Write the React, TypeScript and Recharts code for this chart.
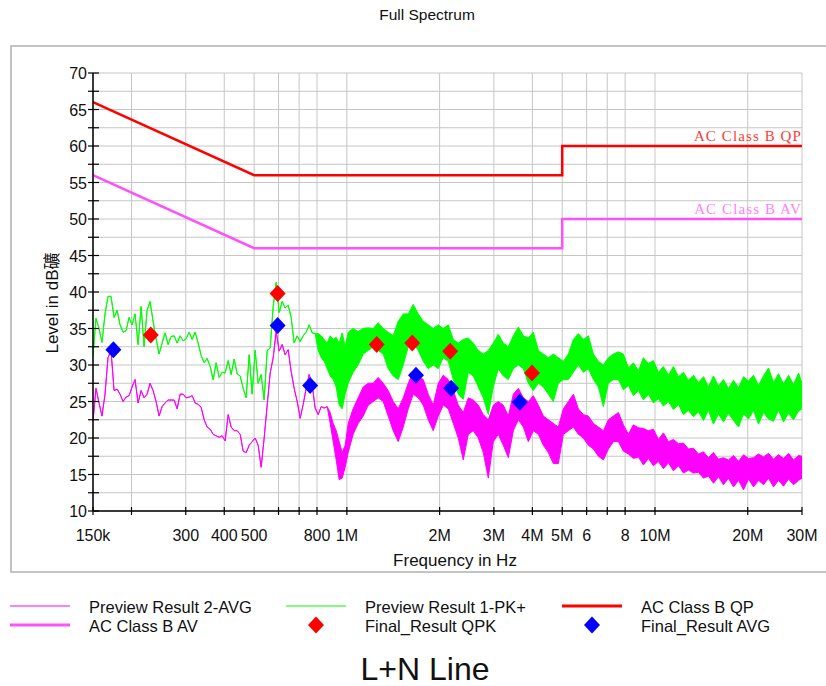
import React from 'react';
import { ComposedChart, Area, Line, Scatter, XAxis, YAxis, CartesianGrid } from 'recharts';

// sweep frequencies in MHz
const freqMHz = [
  0.150, 0.1534, 0.1569, 0.1604, 0.1641, 0.1678, 0.1716, 0.1756, 0.1796, 0.1836,
  0.1878, 0.1920, 0.1964, 0.2009, 0.2054, 0.2101, 0.2149, 0.2197, 0.2247, 0.2298,
  0.2350, 0.2404, 0.2458, 0.2514, 0.2571, 0.2630, 0.2689, 0.2750, 0.2813, 0.2877,
  0.2942, 0.3009, 0.3077, 0.3147, 0.3218, 0.3291, 0.3366, 0.3442, 0.3520, 0.3600,
  0.3682, 0.3765, 0.3851, 0.3938, 0.4027, 0.4119, 0.4212, 0.4308, 0.4405, 0.4505,
  0.4607, 0.4712, 0.4819, 0.4928, 0.5040, 0.5154, 0.5271, 0.5390, 0.5513, 0.5638,
  0.5766, 0.5896, 0.6030, 0.6167, 0.6306, 0.6449, 0.6596, 0.6745, 0.6898, 0.7055,
  0.7215, 0.7378, 0.7546, 0.7717, 0.7892, 0.8071, 0.8254, 0.8441, 0.8632, 0.8828,
  0.9028, 0.9233, 0.9442, 0.9656, 0.9875, 1.010, 1.048, 1.088, 1.130, 1.173,
  1.218, 1.264, 1.312, 1.362, 1.414, 1.468, 1.524, 1.582, 1.642, 1.705,
  1.770, 1.837, 1.907, 1.980, 2.055, 2.134, 2.215, 2.299, 2.387, 2.478,
  2.572, 2.670, 2.772, 2.878, 2.987, 3.101, 3.219, 3.342, 3.469, 3.602,
  3.739, 3.881, 4.029, 4.183, 4.342, 4.507, 4.679, 4.857, 5.042, 5.235,
  5.434, 5.641, 5.856, 6.079, 6.311, 6.551, 6.801, 7.060, 7.329, 7.608,
  7.898, 8.199, 8.511, 8.836, 9.172, 9.522, 9.884, 10.26, 10.65, 11.06,
  11.48, 11.92, 12.37, 12.84, 13.33, 13.84, 14.37, 14.91, 15.48, 16.07,
  16.68, 17.32, 17.98, 18.67, 19.38, 20.12, 20.88, 21.68, 22.50, 23.36,
  24.25, 25.17, 26.13, 27.13, 28.16, 29.24, 30.0,
];

// Preview Result 1-PK+ : upper and lower edge of the trace (equal where the trace is a single line)
const pkHigh = [
  31.2, 36.4, 35.0, 33.1, 37.0, 39.4, 39.4, 36.5, 37.5, 35.5,
  34.5, 34.7, 36.5, 35.5, 37.0, 32.8, 38.0, 32.5, 37.5, 38.7,
  36.0, 33.6, 31.5, 33.0, 34.4, 32.8, 33.9, 34.0, 33.0, 34.0,
  33.3, 33.6, 34.5, 33.5, 34.5, 33.0, 31.3, 30.3, 30.9, 29.8,
  28.0, 30.3, 28.3, 29.0, 28.9, 30.6, 28.7, 30.8, 28.8, 28.5,
  26.8, 25.5, 31.4, 26.0, 32.0, 27.5, 28.7, 25.2, 32.0, 32.3,
  38.0, 41.3, 37.2, 38.7, 37.8, 38.2, 36.5, 33.0, 34.0, 33.2,
  34.0, 34.5, 35.5, 34.4, 34.3, 34.3, 34.0, 33.5, 33.0, 34.0,
  33.5, 33.8, 33.0, 34.4, 32.5, 34.5, 35.0, 34.6, 35.0, 35.1,
  35.0, 35.8, 35.0, 34.5, 34.0, 36.0, 37.0, 37.0, 38.3, 37.0,
  36.0, 35.5, 35.0, 35.5, 35.0, 35.5, 33.5, 33.0, 33.5, 33.7,
  33.0, 32.0, 31.5, 32.0, 33.0, 34.2, 33.0, 32.5, 34.0, 35.2,
  34.0, 33.7, 34.5, 32.0, 31.5, 31.0, 31.5, 31.0, 30.5, 31.5,
  33.5, 34.3, 33.5, 34.0, 31.5, 30.5, 30.0, 31.0, 31.5, 31.8,
  31.5, 29.6, 30.3, 29.2, 31.0, 30.2, 30.6, 29.0, 29.8, 28.6,
  29.8, 28.4, 29.0, 27.9, 28.6, 27.6, 28.4, 27.0, 28.5, 27.1,
  28.0, 26.8, 27.9, 26.9, 28.4, 27.8, 28.6, 27.2, 28.5, 29.6,
  27.6, 28.8, 27.4, 28.6, 27.3, 28.9, 27.5,
];
const pkLow = [
  31.2, 36.4, 35.0, 33.1, 37.0, 39.4, 39.4, 36.5, 37.5, 35.5,
  34.5, 34.7, 36.5, 35.5, 37.0, 32.8, 38.0, 32.5, 37.5, 38.7,
  36.0, 33.6, 31.5, 33.0, 34.4, 32.8, 33.9, 34.0, 33.0, 34.0,
  33.3, 33.6, 34.5, 33.5, 34.5, 33.0, 31.3, 30.3, 30.9, 29.8,
  28.0, 30.3, 28.3, 29.0, 28.9, 30.6, 28.7, 30.8, 28.8, 28.5,
  26.8, 25.5, 31.4, 26.0, 32.0, 27.5, 28.7, 25.2, 32.0, 32.3,
  38.0, 41.3, 37.2, 38.7, 37.8, 38.2, 36.5, 33.0, 34.0, 33.2,
  34.0, 34.5, 35.5, 34.4, 34.3, 32.0, 31.0, 30.5, 29.5, 28.5,
  28.0, 27.0, 24.5, 24.0, 26.0, 27.5, 29.0, 30.0, 31.5, 32.0,
  32.5, 32.0, 31.5, 29.5, 28.5, 28.0, 30.0, 32.5, 33.0, 32.0,
  30.5, 29.5, 30.0, 29.5, 31.0, 30.5, 28.0, 26.0, 25.3, 29.0,
  28.5, 27.0, 25.5, 23.2, 27.0, 29.5, 28.5, 28.0, 29.5, 30.0,
  29.5, 27.5, 26.5, 27.5, 27.0, 26.0, 25.0, 27.5, 28.0, 28.0,
  29.0, 30.0, 29.0, 29.5, 28.0, 27.0, 24.3, 27.5, 28.0, 28.0,
  26.6, 27.2, 25.8, 26.5, 25.2, 26.0, 24.8, 25.4, 24.4, 25.0,
  23.9, 24.6, 23.2, 23.8, 22.9, 23.6, 22.4, 23.8, 21.9, 23.3,
  22.2, 23.4, 22.4, 21.5, 23.3, 22.6, 23.8, 21.9, 23.5, 22.6,
  22.3, 23.8, 22.2, 23.4, 22.5, 23.7, 24.0,
];

// Preview Result 2-AVG
const avgHigh = [
  22.3, 26.8, 24.8, 23.0, 26.0, 31.0, 32.0, 26.5, 26.7, 26.0,
  25.0, 25.6, 25.8, 27.0, 28.0, 24.8, 26.5, 25.5, 26.0, 27.5,
  26.5, 25.0, 23.0, 24.3, 24.8, 25.2, 25.2, 25.2, 24.0, 26.0,
  26.0, 25.5, 25.6, 25.8, 24.8, 24.6, 24.2, 22.5, 21.5, 21.2,
  20.5, 20.3, 20.1, 20.3, 19.6, 23.2, 21.5, 21.0, 21.0, 20.5,
  18.2, 18.0, 19.0, 19.5, 20.0, 19.0, 16.0, 20.0, 24.5, 28.9,
  31.0, 34.6, 31.9, 32.8, 31.4, 32.1, 29.1, 26.8, 25.0, 22.7,
  24.6, 26.8, 28.7, 27.3, 24.1, 23.2, 24.3, 24.1, 24.3, 23.5,
  22.0, 21.0, 19.5, 18.0, 19.0, 22.0, 24.0, 25.5, 27.0, 27.5,
  27.5, 28.3, 27.5, 26.5, 25.0, 24.0, 25.5, 27.5, 29.0, 28.5,
  28.0, 26.0, 24.5, 27.5, 28.6, 28.0, 26.5, 24.5, 23.5, 25.5,
  25.2, 24.5, 23.2, 22.5, 24.5, 25.0, 24.5, 23.0, 26.0, 26.8,
  25.5, 25.0, 25.8, 24.5, 23.0, 22.5, 22.0, 21.5, 24.0, 25.0,
  26.0, 24.0, 23.2, 23.0, 22.0, 21.5, 21.0, 22.5, 23.0, 23.5,
  21.8, 20.5, 21.8, 21.4, 21.3, 21.0, 21.2, 19.8, 20.7, 19.5,
  19.8, 19.2, 19.3, 18.5, 18.6, 17.8, 18.1, 17.3, 18.0, 17.1,
  17.3, 17.0, 17.6, 16.8, 17.7, 17.2, 17.3, 17.8, 17.4, 17.9,
  17.1, 17.7, 17.2, 17.9, 17.0, 17.6, 17.5,
];
const avgLow = [
  22.3, 26.8, 24.8, 23.0, 26.0, 31.0, 32.0, 26.5, 26.7, 26.0,
  25.0, 25.6, 25.8, 27.0, 28.0, 24.8, 26.5, 25.5, 26.0, 27.5,
  26.5, 25.0, 23.0, 24.3, 24.8, 25.2, 25.2, 25.2, 24.0, 26.0,
  26.0, 25.5, 25.6, 25.8, 24.8, 24.6, 24.2, 22.5, 21.5, 21.2,
  20.5, 20.3, 20.1, 20.3, 19.6, 23.2, 21.5, 21.0, 21.0, 20.5,
  18.2, 18.0, 19.0, 19.5, 20.0, 19.0, 16.0, 20.0, 24.5, 28.9,
  31.0, 34.6, 31.9, 32.8, 31.4, 32.1, 29.1, 26.8, 25.0, 22.7,
  24.6, 26.8, 28.7, 27.3, 24.1, 23.2, 24.3, 24.1, 24.3, 22.0,
  19.5, 17.0, 14.3, 14.5, 16.0, 18.0, 20.5, 22.0, 23.0, 24.5,
  25.0, 25.5, 25.0, 23.0, 21.0, 19.5, 21.5, 24.0, 26.0, 25.5,
  24.5, 22.5, 21.0, 23.0, 24.5, 24.0, 22.0, 20.0, 17.0, 20.5,
  21.0, 20.0, 18.0, 14.5, 19.5, 20.5, 19.0, 17.3, 21.0, 22.5,
  21.5, 19.5, 21.0, 20.5, 19.0, 18.0, 16.5, 16.5, 20.5, 21.0,
  21.5, 20.5, 20.0, 19.0, 18.5, 17.5, 17.0, 18.5, 19.5, 19.5,
  18.2, 17.8, 17.2, 17.4, 16.3, 17.2, 16.2, 16.8, 15.8, 16.6,
  15.5, 16.2, 15.2, 15.6, 15.2, 15.3, 14.5, 14.8, 13.8, 14.7,
  13.6, 14.5, 13.3, 14.2, 12.9, 14.4, 13.3, 14.2, 13.6, 14.5,
  13.3, 14.2, 13.4, 14.4, 13.6, 14.2, 14.5,
];

// limit lines (class B)
const limitFreqs = [0.15, 0.5, 5, 5, 30];
const qpLimit = [66, 56, 56, 60, 60];
const avLimit = [56, 46, 46, 50, 50];

// final measurement points
const qpkFreqs = [0.231, 0.596, 1.25, 1.63, 2.164, 3.99];
const qpkLevels = [34.1, 39.8, 32.8, 33.0, 31.9, 28.9];
const finalAvgFreqs = [0.1747, 0.596, 0.76, 1.676, 2.18, 3.64];
const finalAvgLevels = [32.1, 35.4, 27.2, 28.6, 26.8, 24.9];

const xTicks = [0.15, 0.2, 0.3, 0.4, 0.5, 0.6, 0.7, 0.8, 1, 2, 3, 4, 5, 6, 7, 8, 10, 20, 30];
const xTickLabels = ['150k', '', '300', '400', '500', '', '', '800', '1M', '2M', '3M', '4M', '5M', '6', '', '8', '10M', '20M', '30M'];
const yTicks = [10, 12.5, 15, 17.5, 20, 22.5, 25, 27.5, 30, 32.5, 35, 37.5, 40, 42.5, 45, 47.5, 50, 52.5, 55, 57.5, 60, 62.5, 65, 67.5, 70];

const rows = freqMHz.map((f, i) => ({ f, pk: [pkLow[i], pkHigh[i]], avg: [avgLow[i], avgHigh[i]] }));
const qpData = limitFreqs.map((f, i) => ({ f, qp: qpLimit[i] }));
const avData = limitFreqs.map((f, i) => ({ f, av: avLimit[i] }));
const qpkData = qpkFreqs.map((f, i) => ({ f, qpk: qpkLevels[i] }));
const finalAvgData = finalAvgFreqs.map((f, i) => ({ f, fav: finalAvgLevels[i] }));

const SANS = '"Liberation Sans", Arial, "Noto Sans CJK SC", sans-serif';

const diamond = (color: string) => (p: any) => (
  <polygon
    points={`${p.cx},${p.cy - 8.5} ${p.cx + 8},${p.cy} ${p.cx},${p.cy + 8.5} ${p.cx - 8},${p.cy}`}
    fill={color}
  />
);

const limitLabel = (text: string, color: string, last: number) => (p: any) => {
  if (p.index !== last) return null;
  return (
    <text
      x={p.x}
      y={p.y - 5}
      textAnchor="end"
      fill={color}
      fontSize={15}
      letterSpacing={1.1}
      fontFamily='"Liberation Serif", "DejaVu Serif", serif'
    >
      {text}
    </text>
  );
};

const XTick = (p: any) => {
  const idx = xTicks.indexOf(p.payload.value);
  return (
    <g>
      <line x1={p.x} x2={p.x} y1={p.y - 4} y2={p.y + 4} stroke="#000" strokeWidth={1.2} />
      <text x={p.x} y={p.y + 30} textAnchor="middle" fontSize={16} fontFamily={SANS} fill="#111">
        {xTickLabels[idx]}
      </text>
    </g>
  );
};

const YTick = (p: any) => (
  <g>
    <line x1={p.x - 5} x2={p.x + 6} y1={p.y} y2={p.y} stroke="#000" strokeWidth={1.2} />
    {p.payload.value % 5 === 0 && (
      <text x={p.x - 6} y={p.y + 6} textAnchor="end" fontSize={16} fontFamily={SANS} fill="#111">
        {p.payload.value}
      </text>
    )}
  </g>
);

const legendRows = [
  [
    { label: 'Preview Result 2-AVG', kind: 'line', color: '#ff00ff', width: 1 },
    { label: 'Preview Result 1-PK+', kind: 'line', color: '#00ff00', width: 1 },
    { label: 'AC Class B QP', kind: 'line', color: '#ff0000', width: 3 },
  ],
  [
    { label: 'AC Class B AV', kind: 'line', color: '#ff50ff', width: 3 },
    { label: 'Final_Result QPK', kind: 'diamond', color: '#ff0000', width: 0 },
    { label: 'Final_Result AVG', kind: 'diamond', color: '#0000ff', width: 0 },
  ],
];
const legendCols = [10, 286, 562];

export default function App() {
  return (
    <div style={{ position: 'fixed', left: 0, top: 0, width: 826, height: 686, background: '#fff' }}>
      <svg width={826} height={686} style={{ position: 'absolute', left: 0, top: 0 }}>
        <rect x={11} y={46} width={830} height={526} fill="none" stroke="#b0b0b0" strokeWidth={1.5} />
        <text x={427} y={20} textAnchor="middle" fontSize={15.5} fontFamily={SANS} fill="#111">Full Spectrum</text>
        <text x={455} y={566} textAnchor="middle" fontSize={17} fontFamily={SANS} fill="#111">Frequency in Hz</text>
        <text x={58} y={303} transform="rotate(-90 58 303)" textAnchor="middle" fontSize={17} fontFamily={SANS} fill="#111">
          Level in dB礦
        </text>
        {legendRows.map((row, r) =>
          row.map((item, c) => {
            const x0 = legendCols[c];
            const y0 = 606 + r * 19;
            return (
              <g key={`${r}-${c}`}>
                {item.kind === 'line' ? (
                  <line x1={x0} x2={x0 + 60} y1={y0} y2={y0} stroke={item.color} strokeWidth={item.width} />
                ) : (
                  <polygon
                    points={`${x0 + 30},${y0 - 8.5} ${x0 + 38},${y0} ${x0 + 30},${y0 + 8.5} ${x0 + 22},${y0}`}
                    fill={item.color}
                  />
                )}
                <text x={x0 + 79} y={y0 + 7} fontSize={16.5} fontFamily={SANS} fill="#111">{item.label}</text>
              </g>
            );
          })
        )}
        <text x={425} y={680} textAnchor="middle" fontSize={32} fontFamily={SANS} fill="#111">L+N Line</text>
      </svg>
      <div style={{ position: 'absolute', left: 0, top: 0 }}>
        <ComposedChart width={826} height={686} data={rows} margin={{ top: 73, right: 24, left: 33, bottom: 150 }}>
          <CartesianGrid stroke="#c6c6c6" strokeWidth={1} />
          <XAxis
            type="number"
            dataKey="f"
            scale="log"
            domain={[0.15, 30]}
            ticks={xTicks}
            interval={0}
            allowDataOverflow
            height={25}
            tickSize={0}
            tickMargin={0}
            tickLine={false}
            axisLine={{ stroke: '#000', strokeWidth: 1.5 }}
            tick={<XTick />}
          />
          <YAxis
            type="number"
            domain={[10, 70]}
            ticks={yTicks}
            interval={0}
            allowDataOverflow
            width={60}
            tickSize={0}
            tickMargin={0}
            tickLine={false}
            axisLine={{ stroke: '#000', strokeWidth: 1.5 }}
            tick={<YTick />}
          />
          <Area
            dataKey="avg"
            type="linear"
            stroke="#ff00ff"
            strokeWidth={1}
            fill="#ff00ff"
            fillOpacity={1}
            dot={false}
            activeDot={false}
            isAnimationActive={false}
          />
          <Area
            dataKey="pk"
            type="linear"
            stroke="#00ff00"
            strokeWidth={1}
            fill="#00ff00"
            fillOpacity={1}
            dot={false}
            activeDot={false}
            isAnimationActive={false}
          />
          <Line
            data={avData}
            dataKey="av"
            type="linear"
            stroke="#ff50ff"
            strokeWidth={2.5}
            dot={false}
            activeDot={false}
            isAnimationActive={false}
            label={limitLabel('AC Class B AV', '#ff80ff', avData.length - 1)}
          />
          <Line
            data={qpData}
            dataKey="qp"
            type="linear"
            stroke="#ff0000"
            strokeWidth={2.5}
            dot={false}
            activeDot={false}
            isAnimationActive={false}
            label={limitLabel('AC Class B QP', '#ff3a3a', qpData.length - 1)}
          />
          <Scatter data={qpkData} dataKey="qpk" shape={diamond('#ff0000')} isAnimationActive={false} />
          <Scatter data={finalAvgData} dataKey="fav" shape={diamond('#0000ff')} isAnimationActive={false} />
        </ComposedChart>
      </div>
    </div>
  );
}
